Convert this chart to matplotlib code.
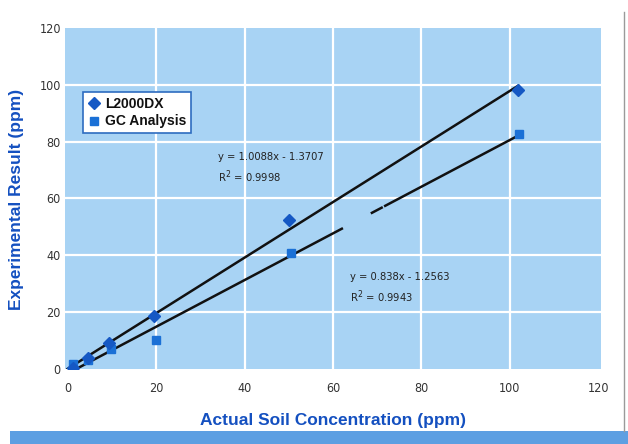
import numpy as np
import matplotlib
matplotlib.use("Agg")
import matplotlib.pyplot as plt
from matplotlib.patches import Rectangle
from matplotlib.lines import Line2D

# ---- data ----
l2000_x = [1.1, 4.5, 9.4, 19.6, 50.1, 101.9]
l2000_y = [0.5, 4.0, 9.3, 18.5, 52.3, 98.3]
gc_x = [1.3, 4.7, 9.7, 19.9, 50.5, 102.0]
gc_y = [1.6, 3.1, 6.9, 10.1, 40.8, 82.6]
series_names = ["L2000DX", "GC Analysis"]
eq_texts = ["y = 1.0088x - 1.3707\nR$^2$ = 0.9998", "y = 0.838x - 1.2563\nR$^2$ = 0.9943"]
x_ticks = [0, 20, 40, 60, 80, 100, 120]
y_ticks = [0, 20, 40, 60, 80, 100, 120]
x_label = "Actual Soil Concentration (ppm)"
y_label = "Experimental Result (ppm)"

narrow = ["Liberation Sans Narrow", "DejaVu Sans"]
bold_font = ["Liberation Sans", "DejaVu Sans"]

W, H = 628, 444
fig = plt.figure(figsize=(W / 100, H / 100), dpi=100)
fig.patch.set_facecolor("white")

left_px, right_px, top_px, bot_px = 65, 601, 28, 369
ax = fig.add_axes([left_px / W, 1 - bot_px / H, (right_px - left_px) / W, (bot_px - top_px) / H])
ax.set_facecolor("#a8d3f4")
ax.set_xlim(-0.6, 120.6)
ax.set_ylim(0, 120)
for s in ax.spines.values():
    s.set_visible(False)
ax.set_xticks(x_ticks)
ax.set_yticks(y_ticks)
ax.grid(True, color="white", linewidth=1.6)
ax.set_axisbelow(True)
for gl in (ax.get_xgridlines()[0], ax.get_xgridlines()[-1],
           ax.get_ygridlines()[0], ax.get_ygridlines()[-1]):
    gl.set_visible(False)
ax.tick_params(length=0, labelsize=9, colors="#333333")
ax.tick_params(axis="x", pad=9)
ax.tick_params(axis="y", pad=3)
for lab in ax.get_xticklabels() + ax.get_yticklabels():
    lab.set_family(narrow)
    lab.set_stretch("condensed")

# trend lines fitted from the data
xs = np.array([0.0, max(l2000_x)])
c1 = np.polyfit(l2000_x, l2000_y, 1)
ax.plot(xs, np.polyval(c1, xs), color="#111111", lw=1.8, zorder=2)
c2 = np.polyfit(gc_x, gc_y, 1)
seg_a = np.array([0.0, 62.0])
seg_b = np.array([68.8, 71.0])
seg_c = np.array([71.8, max(gc_x)])
for seg in (seg_a, seg_b, seg_c):
    ax.plot(seg, np.polyval(c2, seg), color="#111111", lw=1.8, zorder=2)

ax.plot(gc_x, gc_y, "s", color="#1a70d6", ms=6, zorder=3)
ax.plot(l2000_x, l2000_y, "D", color="#1558c4", ms=6.5, zorder=4)

ax.text(34.1, 70.5, eq_texts[0], fontsize=8, family=narrow, stretch="condensed",
        color="#222222", va="center", linespacing=1.5)
ax.text(63.9, 28.3, eq_texts[1], fontsize=8, family=narrow, stretch="condensed",
        color="#222222", va="center", linespacing=1.5)

handles = [Line2D([], [], marker="D", ls="none", color="#1558c4", ms=6.5),
           Line2D([], [], marker="s", ls="none", color="#1a70d6", ms=6)]
leg = ax.legend(handles, series_names, loc="upper left", bbox_to_anchor=(0.034, 0.812),
                borderaxespad=0, frameon=True, fancybox=False, handlelength=0.8,
                handletextpad=0.4, borderpad=0.35, labelspacing=0.25, framealpha=1,
                prop={"family": bold_font, "weight": "bold", "size": 10})
leg.get_frame().set_edgecolor("#2d6cc0")
leg.get_frame().set_linewidth(1.2)
leg.get_frame().set_facecolor("white")
for t in leg.get_texts():
    t.set_color("#111111")

fig.text((left_px + right_px) / 2 / W, 1 - 420 / H, x_label, ha="center", va="center",
         fontsize=12.5, fontweight="bold", family=bold_font, color="#1450c0")
fig.text(17 / W, 1 - 199 / H, y_label, ha="center", va="center", rotation=90,
         fontsize=12.5, fontweight="bold", family=bold_font, color="#1450c0")

# decorative page elements
fig.patches.append(Rectangle((10 / W, 0), 1 - 10 / W, 13 / H, transform=fig.transFigure,
                             facecolor="#5d9fe2", edgecolor="none"))
fig.lines.append(Line2D([624 / W, 624 / W], [13 / H, 1 - 12 / H], transform=fig.transFigure,
                        color="#9a9a9a", lw=1))

fig.savefig("out.png", dpi=100)
